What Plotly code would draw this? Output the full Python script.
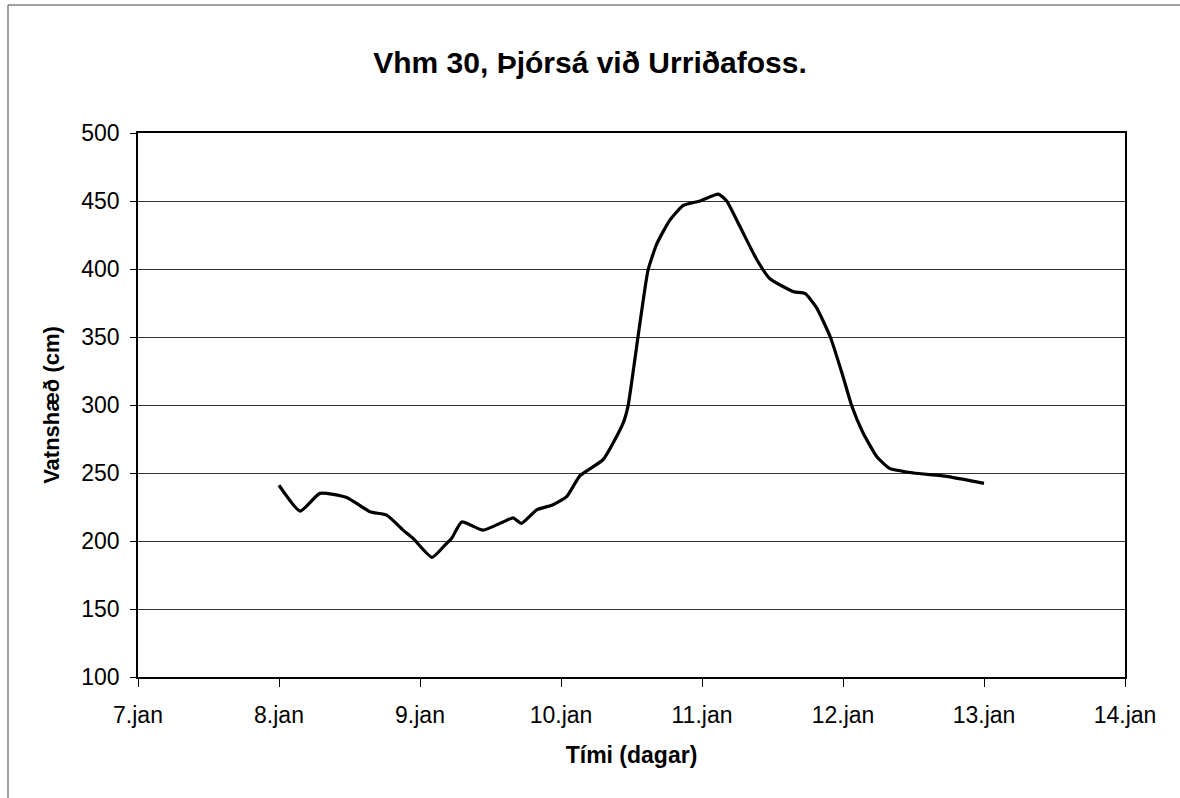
import plotly.graph_objects as go

days = [8.0, 8.15, 8.29, 8.48, 8.645, 8.764, 8.88, 8.95, 9.085, 9.177, 9.225, 9.296,
        9.447, 9.589, 9.66, 9.72, 9.83, 9.94, 10.04, 10.135, 10.30, 10.44, 10.475,
        10.546, 10.617, 10.68, 10.77, 10.867, 10.986, 11.116, 11.175, 11.27, 11.39,
        11.48, 11.65, 11.73, 11.81, 11.91, 12.0, 12.06, 12.14, 12.24, 12.33, 12.50,
        12.735, 13.0]
level = [241, 222, 235, 232, 221.5, 219, 208, 202, 188, 197, 202, 214,
         208, 214, 217, 213, 223, 226.5, 232.6, 248, 260, 286.5, 299,
         350, 399, 418.6, 435.6, 446.7, 450, 455, 450, 431, 406.6,
         393, 383.3, 382, 372, 350, 321, 300, 280, 262, 253.4, 250,
         247.5, 242.4]

tick_vals = [7, 8, 9, 10, 11, 12, 13, 14]
tick_text = ["7.jan", "8.jan", "9.jan", "10.jan", "11.jan", "12.jan", "13.jan", "14.jan"]
y_ticks = [100, 150, 200, 250, 300, 350, 400, 450, 500]

fig = go.Figure()
fig.add_trace(go.Scatter(x=days, y=level, mode="lines",
                         line=dict(color="black", width=3.2, shape="spline", smoothing=0.5),
                         showlegend=False))

font = "Liberation Sans, Arial, sans-serif"
fig.update_layout(
    width=1180, height=798,
    paper_bgcolor="white", plot_bgcolor="white",
    margin=dict(l=138, r=55, t=133, b=121),
    title=dict(text="<b>Vhm 30, Þjórsá við Urriðafoss.</b>", x=0.5, xanchor="center",
               y=1 - 62/798, yanchor="middle",
               font=dict(family=font, size=30, color="black")),
    font=dict(family=font, size=23, color="black"),
    xaxis=dict(range=[7, 14], tickvals=tick_vals, ticktext=tick_text,
               showgrid=False, zeroline=False, showline=True, linecolor="black",
               linewidth=1.5, mirror=True, ticks="outside", ticklen=8, tickcolor="black",
               ticklabelstandoff=9,
               title=dict(text="<b>Tími (dagar)</b>", font=dict(size=23), standoff=20),
               tickfont=dict(size=23)),
    yaxis=dict(range=[100, 500], tickvals=y_ticks,
               showgrid=True, gridcolor="#333333", gridwidth=1, zeroline=False,
               showline=True, linecolor="black", linewidth=1.5, mirror=True,
               ticks="outside", ticklen=6, tickcolor="black",
               ticklabelstandoff=6,
               title=dict(text="<b>Vatnshæð (cm)</b>", font=dict(size=22), standoff=16),
               tickfont=dict(size=23)),
)

fig.add_shape(type="rect", xref="paper", yref="paper",
              x0=(8 - 138) / 987, x1=(1185 - 138) / 987,
              y0=(677 - 805) / 544, y1=(677 - 5) / 544,
              line=dict(color="#444444", width=1), layer="below")

fig.write_html("out.html", config={"displayModeBar": False},
               post_script="document.body.style.margin='0px';")
